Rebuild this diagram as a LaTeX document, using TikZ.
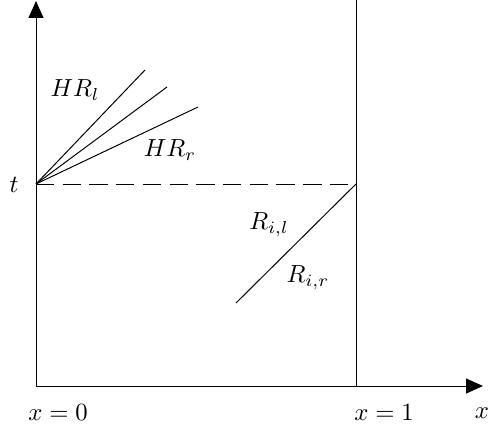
\documentclass[tikz,border=0pt]{standalone}
\usetikzlibrary{arrows.meta}
\begin{document}
\begin{tikzpicture}[x=0.0142cm, y=-0.0142cm, axis/.style={-{Triangle[length=6.8pt,width=6pt]}}]
\useasboundingbox (0,0) rectangle (488,433);
\coordinate (O) at (36,386);
\coordinate (ytop) at (36,1);
\coordinate (xend) at (483,386);
\coordinate (b1) at (356,386);
\coordinate (b1top) at (356,0);
\coordinate (T) at (36,184);
\coordinate (T1) at (356,184);
\coordinate (f1) at (145,70); \coordinate (f2) at (167,87); \coordinate (f3) at (198,107);
\coordinate (s1) at (236,303);
\draw[axis] (O) -- (ytop);
\draw[axis] (O) -- (xend);
\draw (b1) -- (b1top);
\draw[dash pattern=on 7.4pt off 3.4pt] (T) -- (T1);
\foreach \f in {f1,f2,f3} \draw (T) -- (\f);
\draw (T1) -- (s1);
\node (t) at (14,185) {$t$};
\node (hrl) at (75,90) {$HR_l$};
\node (hrr) at (170,150) {$HR_r$};
\node (ril) at (269,225) {$R_{i,l}$};
\node (rir) at (308,278) {$R_{i,r}$};
\node (x0) at (58,413) {$x=0$};
\node (x1) at (384,413) {$x=1$};
\node (xl) at (482,413) {$x$};
\end{tikzpicture}
\end{document}
